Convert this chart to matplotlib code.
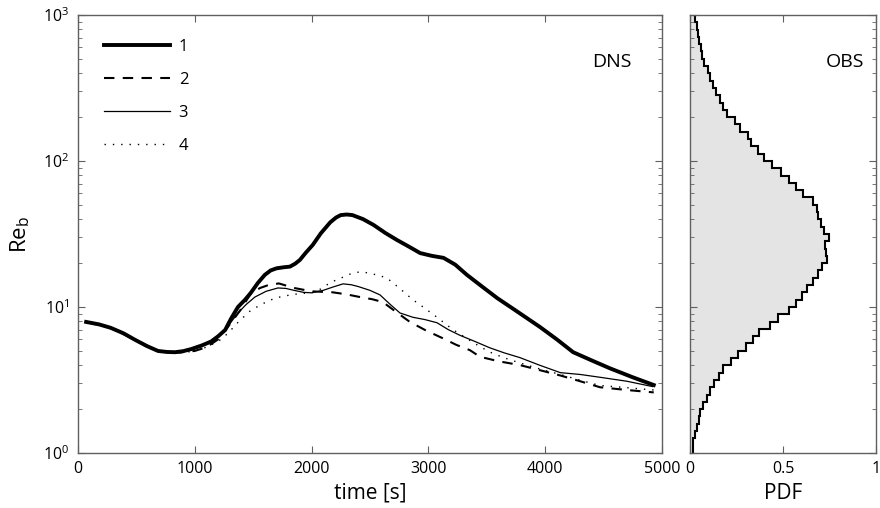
import numpy as np
import matplotlib
matplotlib.use("Agg")
import matplotlib.pyplot as plt

plt.rcParams['font.family'] = ['Open Sans', 'DejaVu Sans']
plt.rcParams['mathtext.fontset'] = 'custom'
plt.rcParams['mathtext.rm'] = 'Open Sans'

# ---- DNS curves (time [s], Re_b) ----
t1 = [70, 180, 280, 390, 490, 590, 685, 760, 830, 900, 970, 1060, 1140, 1200, 1260,
      1310, 1370, 1430, 1480, 1540, 1600, 1650, 1700, 1760, 1815, 1860, 1900, 1950,
      2010, 2080, 2160, 2210, 2250, 2300, 2350, 2440, 2530, 2630, 2730, 2830, 2930,
      3030, 3130, 3230, 3330, 3460, 3590, 3770, 3955, 4100, 4240, 4400, 4555, 4750, 4930]
re1 = [7.9, 7.6, 7.2, 6.6, 5.95, 5.4, 5.0, 4.92, 4.9, 4.98, 5.15, 5.45, 5.8, 6.3, 6.95,
       8.3, 10.0, 11.2, 12.5, 14.6, 16.6, 17.8, 18.4, 18.7, 18.9, 19.8, 21, 23.5,
       26.6, 32, 38, 41, 42.6, 43.0, 42.6, 40, 36.5, 32.2, 28.8, 26, 23.4,
       22.4, 21.7, 19.5, 16.6, 13.8, 11.5, 9.2, 7.3, 6.0, 4.9, 4.3, 3.8, 3.3, 2.92]

t2 = [70, 280, 490, 685, 830, 1000, 1100, 1200, 1300, 1390, 1480, 1560, 1627, 1720,
      1850, 2000, 2183, 2300, 2414, 2520, 2611, 2720, 2842, 2980, 3125, 3240, 3356,
      3442, 3600, 3784, 3950, 4127, 4300, 4470, 4700, 4930]
re2 = [7.9, 7.2, 5.95, 5.0, 4.85, 5.0, 5.3, 6.0, 7.6, 9.5, 12.4, 13.5, 14.1, 14.5,
       13.5, 12.8, 12.6, 12.2, 11.7, 11.3, 10.8, 9.3, 7.9, 6.9, 6.1, 5.5, 5.06,
       4.56, 4.25, 4.0, 3.7, 3.4, 3.1, 2.82, 2.7, 2.6]

t3 = [70, 280, 490, 685, 830, 970, 1100, 1200, 1290, 1370, 1440, 1515, 1610, 1712,
      1780, 1850, 1930, 2000, 2100, 2183, 2270, 2340, 2400, 2500, 2586, 2680, 2757,
      2868, 2970, 3074, 3170, 3270, 3400, 3527, 3650, 3784, 3950, 4130, 4300, 4470,
      4700, 4920]
re3 = [7.9, 7.2, 5.95, 5.0, 4.9, 5.1, 5.6, 6.2, 7.5, 9.1, 10.4, 11.7, 12.8, 13.5,
       13.4, 13.0, 12.6, 12.5, 13.0, 13.7, 14.4, 14.2, 13.8, 13.0, 12.1, 10.3, 9.1,
       8.5, 8.2, 7.8, 7.0, 6.4, 5.8, 5.25, 4.85, 4.5, 4.0, 3.55, 3.45, 3.3,
       3.1, 2.85]

t4 = [70, 280, 490, 685, 900, 1050, 1200, 1284, 1380, 1481, 1590, 1687, 1770, 1850,
      1930, 2000, 2080, 2150, 2210, 2269, 2330, 2389, 2450, 2500, 2570, 2645, 2750,
      2868, 2970, 3074, 3210, 3356, 3450, 3553, 3680, 3800, 3960, 4130, 4300, 4470,
      4700, 4930]
re4 = [7.9, 7.2, 5.95, 5.0, 4.85, 5.1, 5.8, 6.6, 8.0, 9.5, 10.6, 11.5, 11.9, 12.2,
       12.4, 12.5, 13.3, 14.5, 15.3, 16.0, 16.8, 17.3, 17.3, 17.0, 16.5, 15.8, 13.5,
       11.2, 9.8, 8.5, 7.0, 5.9, 5.3, 4.8, 4.4, 4.1, 3.75, 3.45, 3.15, 2.9,
       2.8, 2.7]

labels = ['1', '2', '3', '4']

# ---- OBS histogram: log10(Re_b) bins of 0.05 decade, PDF ----
bin_edges_log = np.arange(0, 3.0001, 0.05)
pdf_obs = [0.015, 0.018, 0.025, 0.036, 0.047, 0.055, 0.07, 0.09, 0.105, 0.13,
           0.155, 0.18, 0.22, 0.26, 0.30, 0.34, 0.37, 0.43, 0.475, 0.53,
           0.57, 0.60, 0.63, 0.66, 0.69, 0.71, 0.735, 0.73, 0.725, 0.745,
           0.72, 0.705, 0.69, 0.68, 0.66, 0.61, 0.57, 0.53, 0.49, 0.44,
           0.40, 0.365, 0.33, 0.31, 0.27, 0.24, 0.20, 0.18, 0.16, 0.14,
           0.125, 0.11, 0.095, 0.075, 0.066, 0.057, 0.05, 0.043, 0.035, 0.025]

spine_col = '#606060'

fig = plt.figure(figsize=(8.8, 5.08), dpi=100)
ax = fig.add_axes([0.0886, 0.1083, 0.6636, 0.8622])
ax2 = fig.add_axes([0.7841, 0.1083, 0.2114, 0.8622])

ax.plot(t1, re1, color='k', lw=2.8, label=labels[0])
ax.plot(t2, re2, color='k', lw=1.5, ls=(0, (5, 4)), label=labels[1])
ax.plot(t3, re3, color='k', lw=0.9, label=labels[2])
ax.plot(t4, re4, color='k', lw=1.0, ls=(0, (1, 5)), label=labels[3])

ax.set_yscale('log')
ax.set_xlim(0, 5000)
ax.set_ylim(1, 1000)
ax.set_xticks([0, 1000, 2000, 3000, 4000, 5000])
ax.set_xlabel('time [s]', fontsize=15, labelpad=4)
ax.set_ylabel('Re$_{\\mathregular{b}}$', fontsize=16, labelpad=8)
ax.text(0.914, 0.893, 'DNS', transform=ax.transAxes, ha='center', va='center', fontsize=14)

leg = ax.legend(loc='upper left', bbox_to_anchor=(0.044, 0.945), frameon=False,
                handlelength=4.0, handletextpad=0.5, labelspacing=1.02,
                borderpad=0, borderaxespad=0, fontsize=12)

edges = 10 ** bin_edges_log
ax2.stairs(pdf_obs, edges, orientation='horizontal', fill=True, color='#e4e4e4', baseline=0)
ax2.stairs(pdf_obs, edges, orientation='horizontal', color='k', lw=1.5, baseline=None)
ax2.set_yscale('log')
ax2.set_ylim(1, 1000)
ax2.set_xlim(0, 1)
ax2.set_xticks([0, 0.5, 1])
ax2.set_xticklabels(['0', '0.5', '1'])
ax2.set_xlabel('PDF', fontsize=15, labelpad=4)
ax2.tick_params(axis='y', which='both', labelleft=False)
ax2.text(0.833, 0.893, 'OBS', transform=ax2.transAxes, ha='center', va='center', fontsize=14)

for a in (ax, ax2):
    for s in a.spines.values():
        s.set_color(spine_col)
        s.set_linewidth(1.0)
    a.tick_params(which='both', direction='in', top=True, right=True, colors=spine_col,
                  labelcolor='k', labelsize=11.5, pad=6)
    a.tick_params(which='major', length=5)
    a.tick_params(which='minor', length=3)

fig.savefig('out.png', dpi=100)
